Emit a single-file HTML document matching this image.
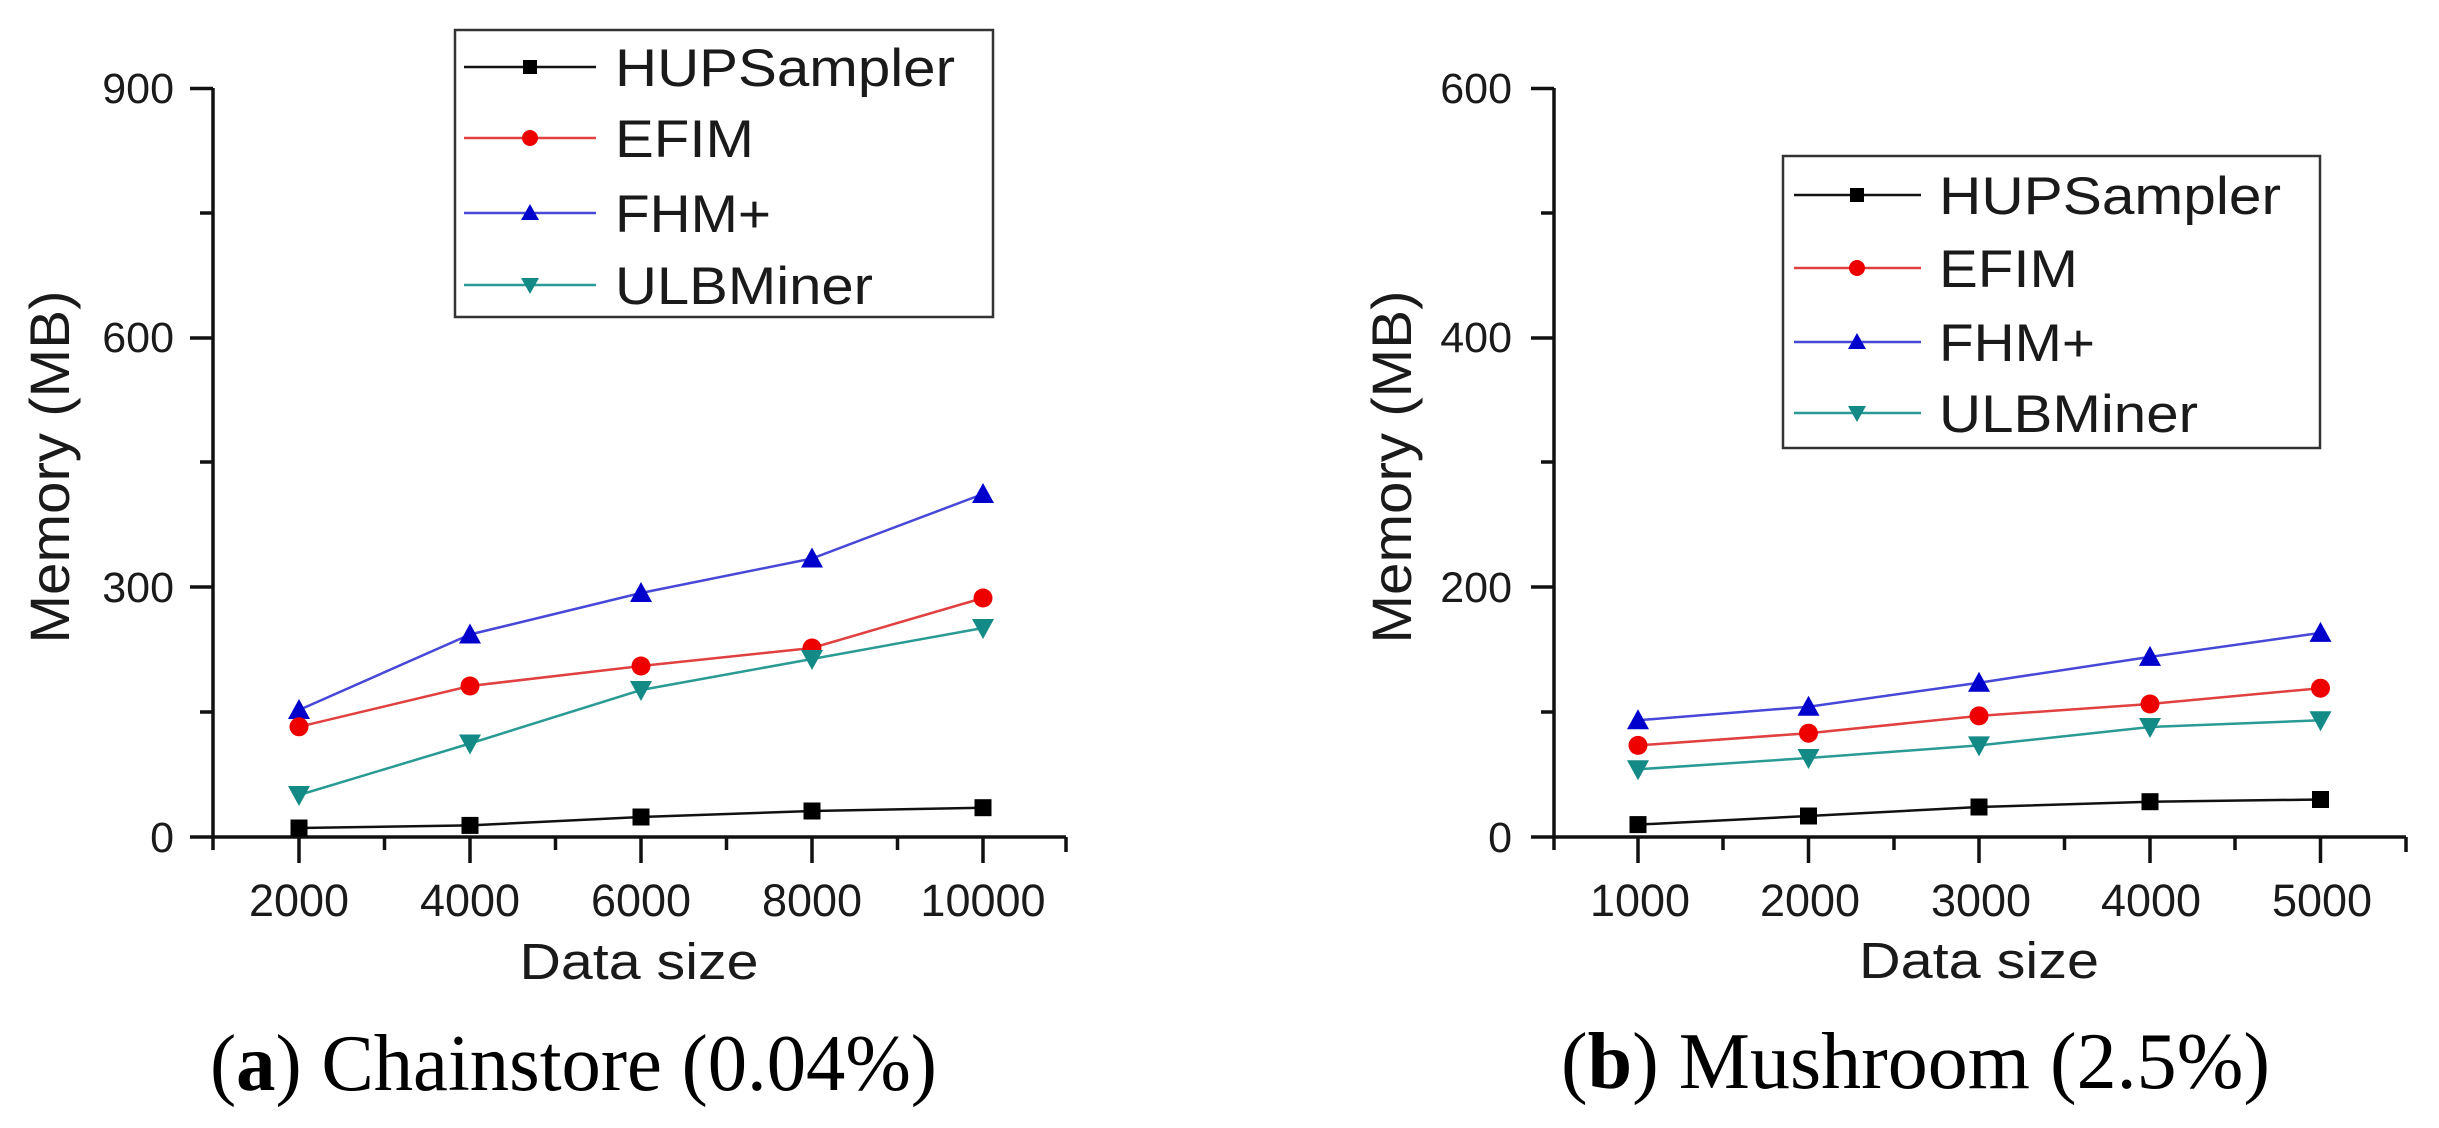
<!DOCTYPE html>
<html><head><meta charset="utf-8"><style>
html,body{margin:0;padding:0;background:#fff;}
svg{display:block;}
text{font-family:"Liberation Sans",Arial,sans-serif;fill:#1a1a1a;}
.cap{font-family:"Liberation Serif","Times New Roman",serif;fill:#000;}
</style></head><body>
<svg width="2439" height="1128" viewBox="0 0 2439 1128" xmlns="http://www.w3.org/2000/svg">
<defs>
<g id="sq"><rect x="-8.5" y="-8.5" width="17" height="17" fill="#000"/></g>
<g id="ci"><circle r="9.5" fill="#ee0000"/></g>
<g id="tu"><polygon points="0,-11 11,9 -11,9" fill="#0000cc"/></g>
<g id="td"><polygon points="0,11 11,-9 -11,-9" fill="#138a86"/></g>
<g id="lsq"><rect x="-7" y="-7" width="14" height="14" fill="#000"/></g>
<g id="lci"><circle r="8" fill="#ee0000"/></g>
<g id="ltu"><polygon points="0,-9 9,7 -9,7" fill="#0000cc"/></g>
<g id="ltd"><polygon points="0,9 9,-7 -9,-7" fill="#138a86"/></g>
</defs>

<!-- ===== Chart A ===== -->
<g stroke="#111" stroke-width="3.5" fill="none">
<line x1="213" y1="88" x2="213" y2="850"/>
<line x1="190" y1="837" x2="1066" y2="837"/>
<line x1="190" y1="88.5" x2="213" y2="88.5"/>
<line x1="200" y1="213" x2="213" y2="213"/>
<line x1="190" y1="338" x2="213" y2="338"/>
<line x1="200" y1="462" x2="213" y2="462"/>
<line x1="190" y1="587" x2="213" y2="587"/>
<line x1="200" y1="712" x2="213" y2="712"/>
<line x1="299" y1="837" x2="299" y2="863"/>
<line x1="470" y1="837" x2="470" y2="863"/>
<line x1="641" y1="837" x2="641" y2="863"/>
<line x1="812" y1="837" x2="812" y2="863"/>
<line x1="983" y1="837" x2="983" y2="863"/>
<line x1="384.5" y1="837" x2="384.5" y2="850"/>
<line x1="555.5" y1="837" x2="555.5" y2="850"/>
<line x1="726.5" y1="837" x2="726.5" y2="850"/>
<line x1="897.5" y1="837" x2="897.5" y2="850"/>
<line x1="1066" y1="837" x2="1066" y2="852"/>
</g>
<g font-size="43" text-anchor="end">
<text x="174" y="103">900</text>
<text x="174" y="352">600</text>
<text x="174" y="602">300</text>
<text x="174" y="852">0</text>
</g>
<g font-size="45" text-anchor="middle">
<text x="299" y="916">2000</text>
<text x="470" y="916">4000</text>
<text x="641" y="916">6000</text>
<text x="812" y="916">8000</text>
<text x="983" y="916">10000</text>
</g>
<text x="639" y="979" font-size="51" text-anchor="middle" textLength="239" lengthAdjust="spacingAndGlyphs">Data size</text>
<text transform="translate(69,467) rotate(-90)" font-size="56" text-anchor="middle" textLength="353" lengthAdjust="spacingAndGlyphs">Memory (MB)</text>

<!-- series A: x: 299,470,641,812,983 ; y=837-v*0.8316 -->
<polyline fill="none" stroke="#4848d8" stroke-width="2.5" points="299,710 470,634.5 641,593 812,558.5 983,494"/>
<polyline fill="none" stroke="#e04040" stroke-width="2.5" points="299,726.8 470,686 641,666 812,648 983,598"/>
<polyline fill="none" stroke="#2a9a94" stroke-width="2.5" points="299,795 470,743.5 641,690 812,659 983,628"/>
<polyline fill="none" stroke="#111" stroke-width="2.5" points="299,828 470,825.4 641,817 812,811 983,807.7"/>
<use href="#tu" x="299" y="710"/><use href="#tu" x="470" y="634.5"/><use href="#tu" x="641" y="593"/><use href="#tu" x="812" y="558.5"/><use href="#tu" x="983" y="494"/>
<use href="#ci" x="299" y="726.8"/><use href="#ci" x="470" y="686"/><use href="#ci" x="641" y="666"/><use href="#ci" x="812" y="648"/><use href="#ci" x="983" y="598"/>
<use href="#td" x="299" y="795"/><use href="#td" x="470" y="743.5"/><use href="#td" x="641" y="690"/><use href="#td" x="812" y="659"/><use href="#td" x="983" y="628"/>
<use href="#sq" x="299" y="828"/><use href="#sq" x="470" y="825.4"/><use href="#sq" x="641" y="817"/><use href="#sq" x="812" y="811"/><use href="#sq" x="983" y="807.7"/>

<!-- legend A -->
<rect x="455" y="30" width="538" height="287" fill="#fff" stroke="#333" stroke-width="2.5"/>
<line x1="464" y1="67" x2="596" y2="67" stroke="#111" stroke-width="2.5"/><use href="#lsq" x="530" y="67"/>
<line x1="464" y1="138" x2="596" y2="138" stroke="#e04040" stroke-width="2.5"/><use href="#lci" x="530" y="138"/>
<line x1="464" y1="213" x2="596" y2="213" stroke="#4848d8" stroke-width="2.5"/><use href="#ltu" x="530" y="213"/>
<line x1="464" y1="285" x2="596" y2="285" stroke="#2a9a94" stroke-width="2.5"/><use href="#ltd" x="530" y="285"/>
<g font-size="53">
<text x="615" y="86" textLength="340" lengthAdjust="spacingAndGlyphs">HUPSampler</text>
<text x="615" y="157" textLength="139" lengthAdjust="spacingAndGlyphs">EFIM</text>
<text x="615" y="232" textLength="156" lengthAdjust="spacingAndGlyphs">FHM+</text>
<text x="615" y="304" textLength="258" lengthAdjust="spacingAndGlyphs">ULBMiner</text>
</g>
<text class="cap" x="210" y="1090" font-size="80" textLength="727" lengthAdjust="spacingAndGlyphs">(<tspan font-weight="bold">a</tspan>) Chainstore (0.04%)</text>

<!-- ===== Chart B ===== -->
<g stroke="#111" stroke-width="3.5" fill="none">
<line x1="1554" y1="88" x2="1554" y2="850"/>
<line x1="1531" y1="837" x2="2406" y2="837"/>
<line x1="1531" y1="88.5" x2="1554" y2="88.5"/>
<line x1="1541" y1="213" x2="1554" y2="213"/>
<line x1="1531" y1="338" x2="1554" y2="338"/>
<line x1="1541" y1="462" x2="1554" y2="462"/>
<line x1="1531" y1="587" x2="1554" y2="587"/>
<line x1="1541" y1="712" x2="1554" y2="712"/>
<line x1="1638" y1="837" x2="1638" y2="863"/>
<line x1="1808.5" y1="837" x2="1808.5" y2="863"/>
<line x1="1979" y1="837" x2="1979" y2="863"/>
<line x1="2150" y1="837" x2="2150" y2="863"/>
<line x1="2320.5" y1="837" x2="2320.5" y2="863"/>
<line x1="1723" y1="837" x2="1723" y2="850"/>
<line x1="1894" y1="837" x2="1894" y2="850"/>
<line x1="2064.5" y1="837" x2="2064.5" y2="850"/>
<line x1="2235" y1="837" x2="2235" y2="850"/>
<line x1="2406" y1="837" x2="2406" y2="852"/>
</g>
<g font-size="43" text-anchor="end">
<text x="1512" y="103">600</text>
<text x="1512" y="352">400</text>
<text x="1512" y="602">200</text>
<text x="1512" y="852">0</text>
</g>
<g font-size="45" text-anchor="middle">
<text x="1640" y="916">1000</text>
<text x="1810" y="916">2000</text>
<text x="1981" y="916">3000</text>
<text x="2151" y="916">4000</text>
<text x="2322" y="916">5000</text>
</g>
<text x="1979" y="978" font-size="51" text-anchor="middle" textLength="240" lengthAdjust="spacingAndGlyphs">Data size</text>
<text transform="translate(1411,467) rotate(-90)" font-size="56" text-anchor="middle" textLength="353" lengthAdjust="spacingAndGlyphs">Memory (MB)</text>

<polyline fill="none" stroke="#4848d8" stroke-width="2.5" points="1638,720.3 1808.5,706.7 1979,682.7 2150,656.9 2320.5,632.9"/>
<polyline fill="none" stroke="#e04040" stroke-width="2.5" points="1638,745.4 1808.5,733.2 1979,715.9 2150,704 2320.5,688.2"/>
<polyline fill="none" stroke="#2a9a94" stroke-width="2.5" points="1638,769.3 1808.5,758 1979,745.4 2150,727 2320.5,720.3"/>
<polyline fill="none" stroke="#111" stroke-width="2.5" points="1638,824.6 1808.5,816 1979,807 2150,801.7 2320.5,799.5"/>
<use href="#tu" x="1638" y="720.3"/><use href="#tu" x="1808.5" y="706.7"/><use href="#tu" x="1979" y="682.7"/><use href="#tu" x="2150" y="656.9"/><use href="#tu" x="2320.5" y="632.9"/>
<use href="#ci" x="1638" y="745.4"/><use href="#ci" x="1808.5" y="733.2"/><use href="#ci" x="1979" y="715.9"/><use href="#ci" x="2150" y="704"/><use href="#ci" x="2320.5" y="688.2"/>
<use href="#td" x="1638" y="769.3"/><use href="#td" x="1808.5" y="758"/><use href="#td" x="1979" y="745.4"/><use href="#td" x="2150" y="727"/><use href="#td" x="2320.5" y="720.3"/>
<use href="#sq" x="1638" y="824.6"/><use href="#sq" x="1808.5" y="816"/><use href="#sq" x="1979" y="807"/><use href="#sq" x="2150" y="801.7"/><use href="#sq" x="2320.5" y="799.5"/>

<rect x="1783" y="156" width="537" height="292" fill="#fff" stroke="#333" stroke-width="2.5"/>
<line x1="1794" y1="195" x2="1921" y2="195" stroke="#111" stroke-width="2.5"/><use href="#lsq" x="1857" y="195"/>
<line x1="1794" y1="268" x2="1921" y2="268" stroke="#e04040" stroke-width="2.5"/><use href="#lci" x="1857" y="268"/>
<line x1="1794" y1="342" x2="1921" y2="342" stroke="#4848d8" stroke-width="2.5"/><use href="#ltu" x="1857" y="342"/>
<line x1="1794" y1="413" x2="1921" y2="413" stroke="#2a9a94" stroke-width="2.5"/><use href="#ltd" x="1857" y="413"/>
<g font-size="53">
<text x="1939" y="214" textLength="342" lengthAdjust="spacingAndGlyphs">HUPSampler</text>
<text x="1939" y="287" textLength="139" lengthAdjust="spacingAndGlyphs">EFIM</text>
<text x="1939" y="361" textLength="156" lengthAdjust="spacingAndGlyphs">FHM+</text>
<text x="1939" y="432" textLength="259" lengthAdjust="spacingAndGlyphs">ULBMiner</text>
</g>
<text class="cap" x="1561" y="1088" font-size="80" textLength="709" lengthAdjust="spacingAndGlyphs">(<tspan font-weight="bold">b</tspan>) Mushroom (2.5%)</text>
</svg>
</body></html>
